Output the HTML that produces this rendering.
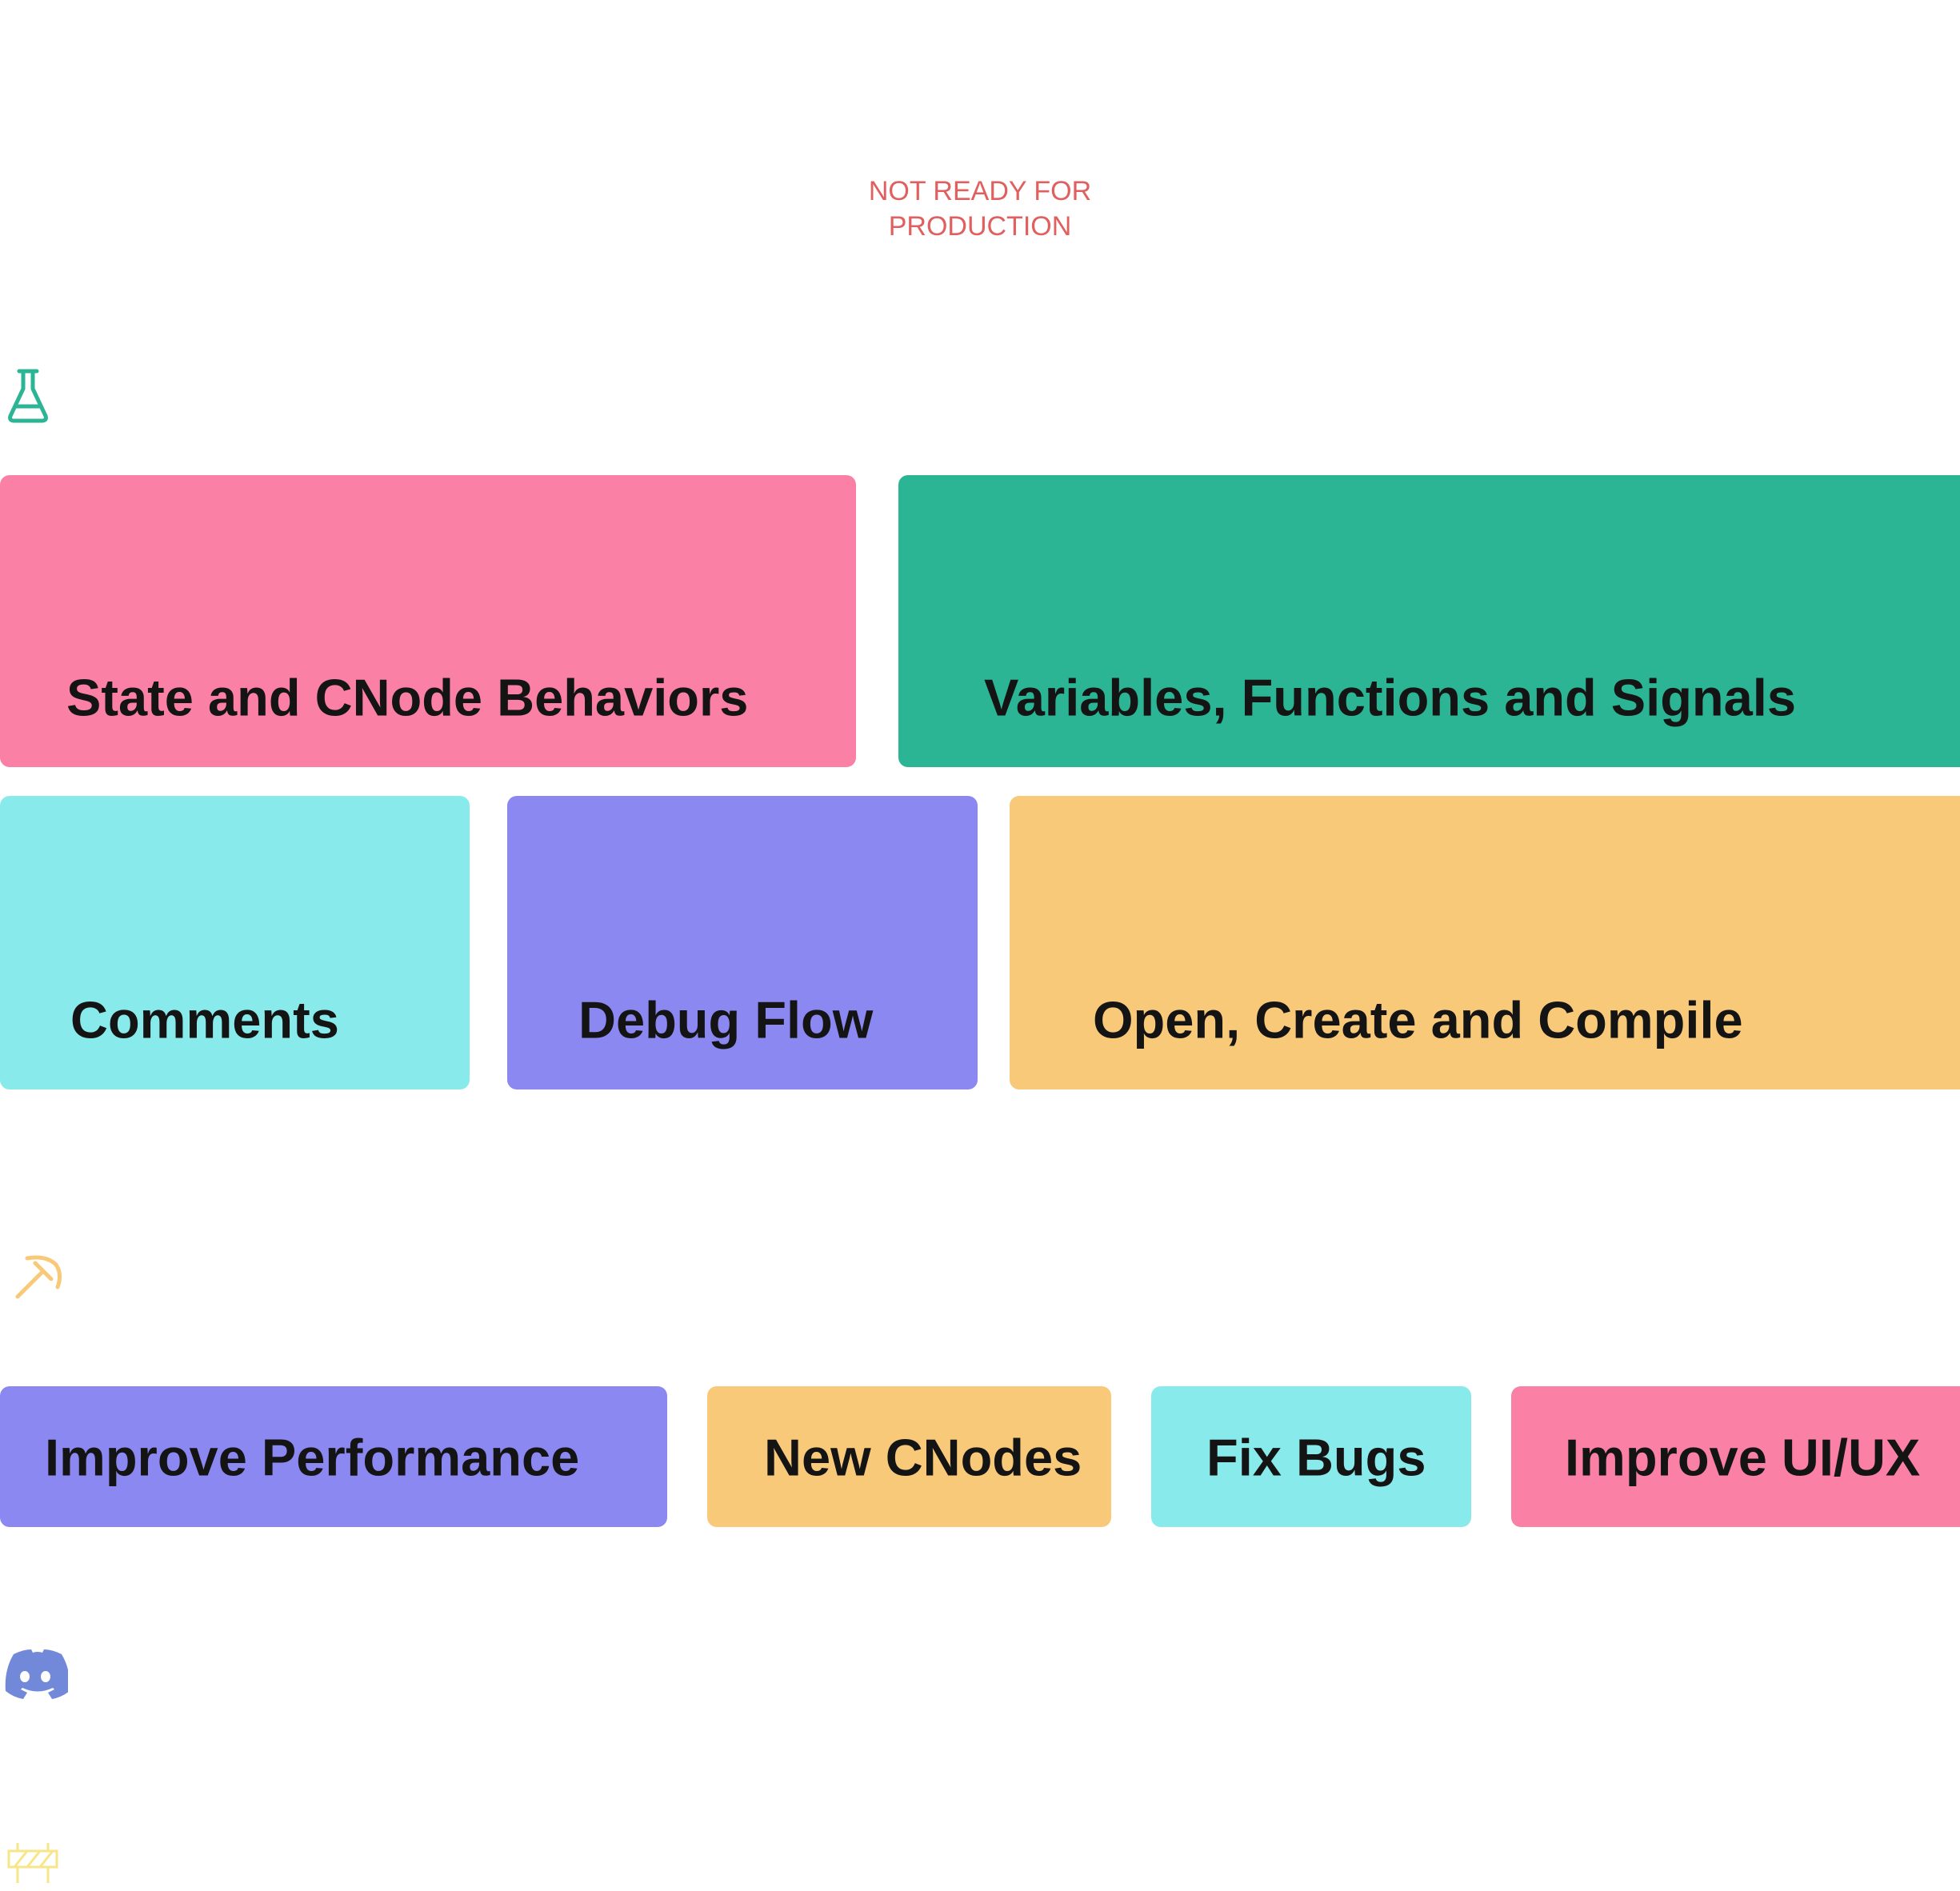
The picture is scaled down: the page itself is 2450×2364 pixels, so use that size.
<!DOCTYPE html>
<html><head><meta charset="utf-8"><style>
html,body{margin:0;padding:0;background:#fff;}
body{width:2450px;height:2364px;position:relative;overflow:hidden;font-family:"Liberation Sans",sans-serif;}
.b{position:absolute;border-radius:12px;}
.t{position:absolute;font-weight:bold;font-size:65px;color:#141414;white-space:nowrap;line-height:1;transform:translateY(-50%);}
.nr{position:absolute;left:1025px;width:400px;text-align:center;color:#e0605f;font-size:34px;line-height:44px;top:217px;}
</style></head><body>
<div class="nr">NOT READY FOR<br>PRODUCTION</div>

<svg style="position:absolute;left:8px;top:460px" width="56" height="70" viewBox="0 0 56 70">
<path d="M16 4h22M21 4v22L5 60q-2 6 5 6h34q7 0 5-6L33 26V4M12 48h30" fill="none" stroke="#2bb594" stroke-width="5" stroke-linejoin="round" stroke-linecap="round"/></svg>

<div class="b" style="left:0;top:594px;width:1070px;height:365px;background:#fa80a6"></div>
<div class="b" style="left:1123px;top:594px;width:1340px;height:365px;background:#2bb594"></div>
<div class="t" style="left:83px;top:872px">State and CNode Behaviors</div>
<div class="t" style="left:1230px;top:872px">Variables, Functions and Signals</div>

<div class="b" style="left:0;top:995px;width:587px;height:367px;background:#88eaea"></div>
<div class="b" style="left:634px;top:995px;width:588px;height:367px;background:#8b88f2"></div>
<div class="b" style="left:1262px;top:995px;width:1200px;height:367px;background:#f9c97a"></div>
<div class="t" style="left:88px;top:1275px">Comments</div>
<div class="t" style="left:723px;top:1275px">Debug Flow</div>
<div class="t" style="left:1366px;top:1275px">Open, Create and Compile</div>

<svg style="position:absolute;left:14px;top:1565px" width="64" height="64" viewBox="0 0 64 64">
<path d="M20 8q24-4 36 8q8 12 2 28M8 56L38 26M30 14l20 20" fill="none" stroke="#f9c97a" stroke-width="5" stroke-linecap="round"/></svg>

<div class="b" style="left:0;top:1733px;width:834px;height:176px;background:#8b88f2"></div>
<div class="b" style="left:884px;top:1733px;width:505px;height:176px;background:#f9c97a"></div>
<div class="b" style="left:1439px;top:1733px;width:400px;height:176px;background:#88eaea"></div>
<div class="b" style="left:1889px;top:1733px;width:573px;height:176px;background:#fa80a6"></div>
<div class="t" style="left:56px;top:1822px">Improve Performance</div>
<div class="t" style="left:955px;top:1822px">New CNodes</div>
<div class="t" style="left:1508px;top:1822px">Fix Bugs</div>
<div class="t" style="left:1956px;top:1822px">Improve UI/UX</div>

<svg style="position:absolute;left:3px;top:2060px" width="82" height="64" viewBox="0 0 82 64">
<path d="M14 8q12-6 22-6l2 4q3-1 6-1t6 1l2-4q10 0 22 6q12 20 10 46q-10 8-22 10l-5-8q4-2 8-4l-2-2q-19 9-38 0l-2 2q4 2 8 4l-5 8q-12-2-22-10q-2-26 10-46z" fill="#7289da"/>
<ellipse cx="28" cy="36" rx="6" ry="7" fill="#fff"/><ellipse cx="54" cy="36" rx="6" ry="7" fill="#fff"/></svg>

<svg style="position:absolute;left:8px;top:2300px" width="66" height="58" viewBox="0 0 66 58">
<g fill="none" stroke="#f7e58a" stroke-width="3"><rect x="3" y="14" width="60" height="20"/><path d="M14 4v10M52 4v10M14 34v20M52 34v20M10 34l16-20M26 34l16-20M42 34l16-20"/></g></svg>
</body></html>
